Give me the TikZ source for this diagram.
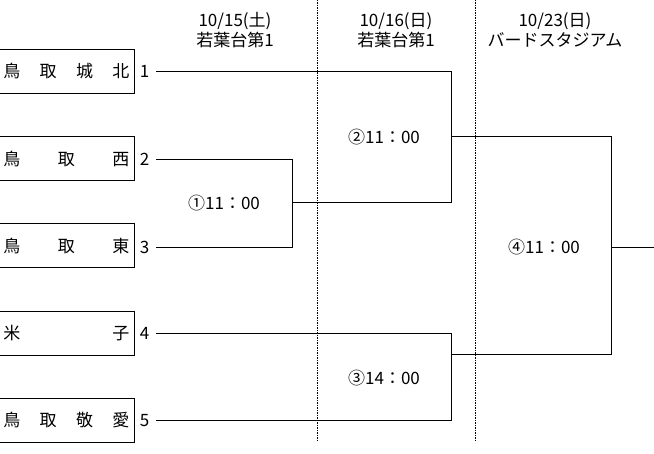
\documentclass[tikz,border=0pt]{standalone}
\usepackage{fontspec}
\setmainfont{Noto Sans CJK JP}
\begin{document}
\begin{tikzpicture}[x=1pt,y=-1pt,
  font=\fontsize{17}{20}\selectfont,
  team/.style={draw, line width=1pt, minimum width=136.7pt, minimum height=44pt, inner sep=0pt},
  num/.style={inner sep=0pt},
  br/.style={line width=1pt},
  sepline/.style={line width=0.9pt, dash pattern=on 1.2pt off 1.3pt},
  lbl/.style={inner sep=0pt},
  hdr/.style={inner sep=0pt, align=center}]
\useasboundingbox (0,0) rectangle (654,454);
% teams
\node[team] (t1) at (66.35,71.3) {\makebox[126pt]{鳥\hfill 取\hfill 城\hfill 北}};
\node[team] (t2) at (66.35,159) {\makebox[126pt]{鳥\hfill 取\hfill 西}};
\node[team] (t3) at (66.35,246) {\makebox[126pt]{鳥\hfill 取\hfill 東}};
\node[team] (t4) at (66.35,333.3) {\makebox[126pt]{米\hfill 子}};
\node[team] (t5) at (66.35,420.5) {\makebox[126pt]{鳥\hfill 取\hfill 敬\hfill 愛}};
% numbers
\node[num] (n1) at (144.5,71.3) {1};
\node[num] (n2) at (144.5,159.3) {2};
\node[num] (n3) at (144.5,247.3) {3};
\node[num] (n4) at (144.5,333.3) {4};
\node[num] (n5) at (144.5,421) {5};
% line starts
\coordinate (s1) at (156,71.3);
\coordinate (s2) at (156,159.3);
\coordinate (s3) at (156,247.3);
\coordinate (s4) at (156,333.3);
\coordinate (s5) at (156,421);
% junctions
\coordinate (j1) at (292.7,203);
\coordinate (j1b) at (451.7,203);
\coordinate (j2) at (451.7,136.7);
\coordinate (j2b) at (611.7,136.7);
\coordinate (j3) at (451.7,355);
\coordinate (j3b) at (611.7,355);
\coordinate (j4) at (611.7,247.3);
\coordinate (fin) at (660,247.3);
% dotted separators
\coordinate (d1a) at (317.7,0);
\coordinate (d1b) at (317.7,441.7);
\coordinate (d2a) at (475.3,0);
\coordinate (d2b) at (475.3,441.7);
\draw[sepline] (d1a) -- (d1b);
\draw[sepline] (d2a) -- (d2b);
% brackets
\draw[br] (s2) -| (j1) |- (s3);
\draw[br] (j1) -- (j1b);
\draw[br] (s1) -| (j2) |- (j1b);
\draw[br] (j2) -- (j2b);
\draw[br] (s4) -| (j3) |- (s5);
\draw[br] (j3) -- (j3b);
\draw[br] (j2b) -- (j3b);
\draw[br] (j4) -- (fin);
% match labels
\node[lbl] (m1) at (224,203) {①11：00};
\node[lbl] (m2) at (384,136.7) {②11：00};
\node[lbl] (m3) at (384,378.3) {③14：00};
\node[lbl] (m4) at (544,247.3) {④11：00};
% headers
\node[hdr] (h1) at (235,30) {10/15(土)\\若葉台第1};
\node[hdr] (h2) at (396,30) {10/16(日)\\若葉台第1};
\node[hdr] (h3) at (555,30) {10/23(日)\\バードスタジアム};
\end{tikzpicture}
\end{document}
